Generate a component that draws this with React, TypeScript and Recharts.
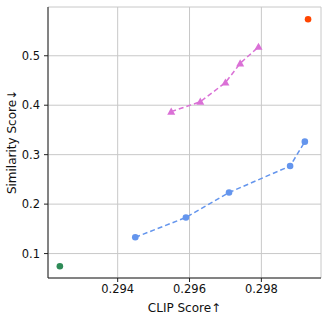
import { CartesianGrid, Label, Scatter, ScatterChart, XAxis, YAxis } from "recharts";

const FRAME = "#222";
const GRID = "#c8c8c8";

const X_TICKS = [0.294, 0.296, 0.298];
const Y_TICKS = [0.1, 0.2, 0.3, 0.4, 0.5];

const blueX = [0.29449, 0.2959, 0.2971, 0.2988, 0.29921];
const blueY = [0.133, 0.173, 0.2235, 0.277, 0.3263];
const pinkX = [0.29549, 0.2963, 0.297, 0.29741, 0.29792];
const pinkY = [0.387, 0.407, 0.4457, 0.4846, 0.518];
const greenPt = { x: 0.29239, y: 0.0743 };
const orangePt = { x: 0.2993, y: 0.5737 };

const zip = (xs: number[], ys: number[]) => xs.map((x, i) => ({ x, y: ys[i] }));

const dot = (fill: string) => (p: any) => <circle cx={p.cx} cy={p.cy} r={3.3} fill={fill} />;
const tri = (fill: string) => (p: any) => (
  <polygon points={`${p.cx},${p.cy - 4.2} ${p.cx - 4},${p.cy + 3} ${p.cx + 4},${p.cy + 3}`} fill={fill} />
);

const tickStyle = { fontSize: 11.5, fill: "#111", fontFamily: "DejaVu Sans" };

export default function App() {
  return (
    <div style={{ position: "absolute", left: 0, top: 0, background: "#fff", fontFamily: "DejaVu Sans" }}>
      <ScatterChart width={328} height={319} margin={{ top: 7, right: 7, left: 8, bottom: 5 }}>
        <CartesianGrid stroke={GRID} strokeWidth={1} />
        <XAxis
          type="number" dataKey="x" domain={[0.29206, 0.29966]} ticks={X_TICKS}
          tickFormatter={(v) => v.toFixed(3)} tick={tickStyle} tickSize={4} tickMargin={3}
          stroke={FRAME} height={36} allowDataOverflow
        >
          <Label value="CLIP Score↑" position="insideBottom" offset={2} style={{ fontSize: 12, fill: "#111" }} />
        </XAxis>
        <XAxis xAxisId="top" orientation="top" type="number" domain={[0.29206, 0.29966]} tick={false} tickLine={false} stroke={FRAME} height={0} />
        <YAxis
          type="number" dataKey="y" domain={[0.0506, 0.5986]} ticks={Y_TICKS}
          tickFormatter={(v) => v.toFixed(1)} tick={tickStyle} tickSize={4} tickMargin={4}
          stroke={FRAME} width={40} allowDataOverflow
        >
          <Label
            content={() => (
              <text x={12} y={142} transform="rotate(-90, 12, 142)" textAnchor="middle" dominantBaseline="central"
                style={{ fontSize: 12, fill: "#111", fontFamily: "DejaVu Sans" }}>
                Similarity Score↓
              </text>
            )}
          />
        </YAxis>
        <YAxis yAxisId="right" orientation="right" type="number" domain={[0.0506, 0.5986]} tick={false} tickLine={false} stroke={FRAME} width={0} />
        <Scatter data={zip(blueX, blueY)} fill="#6495ED" line={{ stroke: "#6495ED", strokeWidth: 1.5, strokeDasharray: "5 3" }} shape={dot("#6495ED")} isAnimationActive={false} />
        <Scatter data={zip(pinkX, pinkY)} fill="#DA70D6" line={{ stroke: "#DA70D6", strokeWidth: 1.5, strokeDasharray: "5 3" }} shape={tri("#DA70D6")} isAnimationActive={false} />
        <Scatter data={[greenPt]} fill="#2E8B57" shape={dot("#2E8B57")} isAnimationActive={false} />
        <Scatter data={[orangePt]} fill="#FF4500" shape={dot("#FF4500")} isAnimationActive={false} />
      </ScatterChart>
    </div>
  );
}
